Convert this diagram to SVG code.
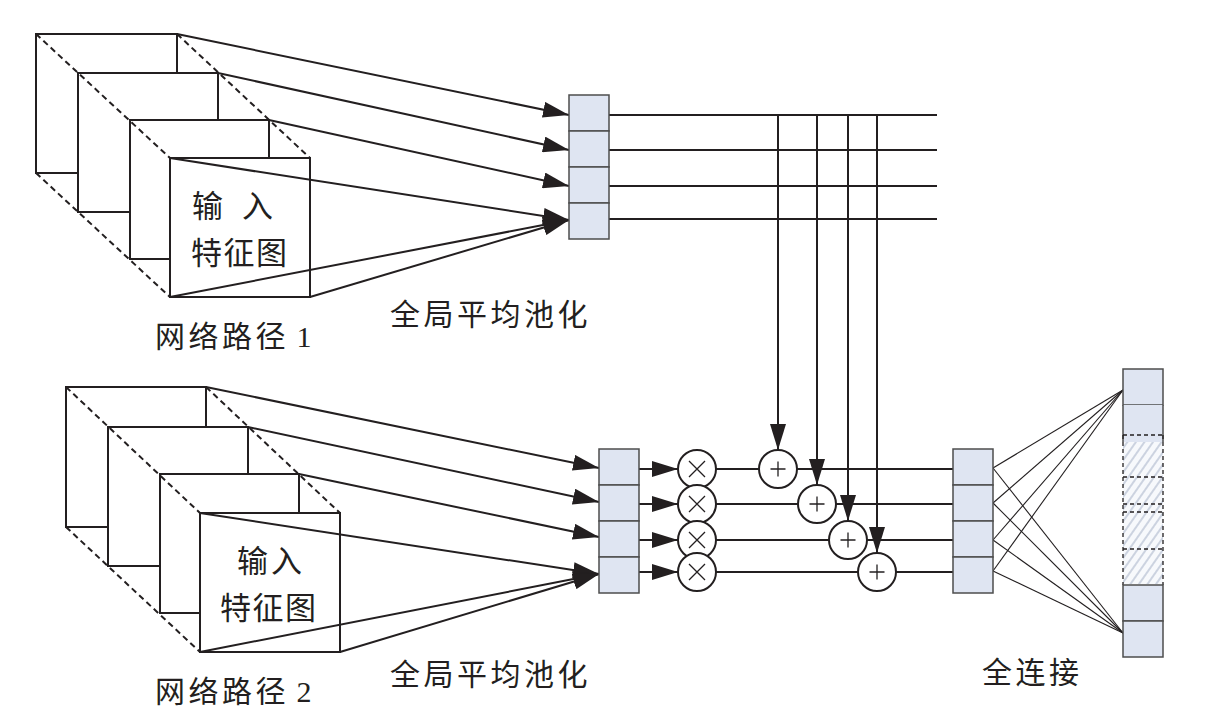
<svg xmlns="http://www.w3.org/2000/svg" width="1217" height="723" viewBox="0 0 1217 723">
<style>
.frame{fill:#fff;stroke:#231f20;stroke-width:2}
.dash{fill:none;stroke:#231f20;stroke-width:2;stroke-dasharray:6 4}
.cell{fill:#dfe5f2;stroke:#4d4d4d;stroke-width:1.5}
.wire{fill:none;stroke:#231f20;stroke-width:2}
.arr{fill:none;stroke:#231f20;stroke-width:2;marker-end:url(#ah)}
.fc{fill:none;stroke:#231f20;stroke-width:1.1}
.op{fill:#fff;stroke:#231f20;stroke-width:2}
.sym{fill:none;stroke:#231f20;stroke-width:1.3}
.lbl{font-family:"Noto Sans CJK SC","Liberation Serif",sans-serif;font-size:30px;fill:#231f20;letter-spacing:3.5px}
.in{font-family:"Noto Sans CJK SC","Liberation Serif",sans-serif;font-size:31px;fill:#231f20}
.num{font-family:"Liberation Serif",serif;letter-spacing:0}
</style>
<defs>
<marker id="ah" markerUnits="userSpaceOnUse" markerWidth="26" markerHeight="16" refX="26" refY="8" orient="auto">
<path d="M0,0 L26,8 L0,16 z" fill="#231f20"/>
</marker>
<pattern id="hatch" patternUnits="userSpaceOnUse" width="7" height="7" patternTransform="rotate(35)">
<rect width="7" height="7" fill="#f7f9fc"/>
<line x1="1" y1="0" x2="1" y2="7" stroke="#a9b4ca" stroke-width="1.1"/>
</pattern>
</defs>

<g id="path1-stack">
<rect class="frame" x="36" y="34" width="141" height="139"/>
<rect class="frame" x="78" y="73" width="140" height="139"/>
<rect class="frame" x="130" y="120" width="139" height="139"/>
<rect class="frame" x="170" y="158" width="140" height="139"/>
<line class="dash" x1="36" y1="34" x2="170" y2="158"/>
<line class="dash" x1="177" y1="34" x2="310" y2="158"/>
<line class="dash" x1="36" y1="173" x2="170" y2="297"/>
<text class="in" x="192 242" y="217">输入</text>
<text class="in" x="191" y="264" letter-spacing="1.5">特征图</text>
</g>

<g id="path2-stack">
<rect class="frame" x="66" y="387" width="140" height="140"/>
<rect class="frame" x="108" y="427" width="140" height="139"/>
<rect class="frame" x="160" y="474" width="139" height="139"/>
<rect class="frame" x="200" y="513" width="140" height="139"/>
<line class="dash" x1="66" y1="387" x2="200" y2="513"/>
<line class="dash" x1="206" y1="387" x2="340" y2="513"/>
<line class="dash" x1="66" y1="527" x2="200" y2="652"/>
<text class="in" x="237 271" y="572">输入</text>
<text class="in" x="220" y="619" letter-spacing="1.5">特征图</text>
</g>

<g id="connectors">
<line class="arr" x1="177" y1="34" x2="569" y2="115"/>
<line class="arr" x1="218" y1="73" x2="569" y2="150"/>
<line class="arr" x1="269" y1="120" x2="569" y2="186"/>
<line class="arr" x1="170" y1="158" x2="569" y2="220"/>
<line class="arr" x1="170" y1="297" x2="569" y2="220"/>
<line class="arr" x1="310" y1="297" x2="569" y2="220"/>

<line class="arr" x1="206" y1="387" x2="599" y2="468"/>
<line class="arr" x1="248" y1="427" x2="599" y2="502"/>
<line class="arr" x1="299" y1="474" x2="599" y2="537"/>
<line class="arr" x1="200" y1="513" x2="599" y2="574"/>
<line class="arr" x1="200" y1="652" x2="599" y2="574"/>
<line class="arr" x1="340" y1="652" x2="599" y2="574"/>

<line class="wire" x1="609" y1="115" x2="937" y2="115"/>
<line class="wire" x1="609" y1="150" x2="937" y2="150"/>
<line class="wire" x1="609" y1="186" x2="937" y2="186"/>
<line class="wire" x1="609" y1="219" x2="937" y2="219"/>

<line class="arr" x1="778" y1="115" x2="778" y2="450"/>
<line class="arr" x1="817" y1="115" x2="817" y2="485"/>
<line class="arr" x1="848" y1="115" x2="848" y2="521"/>
<line class="arr" x1="877" y1="115" x2="877" y2="553"/>

<line class="arr" x1="639" y1="469" x2="678" y2="469"/>
<line class="arr" x1="639" y1="504" x2="678" y2="504"/>
<line class="arr" x1="639" y1="540" x2="678" y2="540"/>
<line class="arr" x1="639" y1="572" x2="678" y2="572"/>

<line class="wire" x1="697" y1="469" x2="953" y2="469"/>
<line class="wire" x1="697" y1="504" x2="953" y2="504"/>
<line class="wire" x1="697" y1="540" x2="953" y2="540"/>
<line class="wire" x1="697" y1="572" x2="953" y2="572"/>

<line class="fc" x1="993" y1="468" x2="1123" y2="390"/>
<line class="fc" x1="993" y1="503" x2="1123" y2="390"/>
<line class="fc" x1="993" y1="540" x2="1123" y2="390"/>
<line class="fc" x1="993" y1="571" x2="1123" y2="390"/>
<line class="fc" x1="993" y1="468" x2="1123" y2="633"/>
<line class="fc" x1="993" y1="503" x2="1123" y2="633"/>
<line class="fc" x1="993" y1="540" x2="1123" y2="633"/>
<line class="fc" x1="993" y1="571" x2="1123" y2="633"/>
</g>

<g id="pool1">
<rect class="cell" x="569" y="95" width="40" height="36"/>
<rect class="cell" x="569" y="131" width="40" height="36"/>
<rect class="cell" x="569" y="167" width="40" height="36"/>
<rect class="cell" x="569" y="203" width="40" height="36"/>
</g>

<g id="pool2">
<rect class="cell" x="599" y="449" width="40" height="36"/>
<rect class="cell" x="599" y="485" width="40" height="36"/>
<rect class="cell" x="599" y="521" width="40" height="36"/>
<rect class="cell" x="599" y="557" width="40" height="36"/>
</g>

<g id="multiply">
<circle class="op" cx="697" cy="469" r="19"/>
<path class="sym" d="M689,461 L705,477 M705,461 L689,477"/>
<circle class="op" cx="697" cy="504" r="19"/>
<path class="sym" d="M689,496 L705,512 M705,496 L689,512"/>
<circle class="op" cx="697" cy="540" r="19"/>
<path class="sym" d="M689,532 L705,548 M705,532 L689,548"/>
<circle class="op" cx="697" cy="572" r="19"/>
<path class="sym" d="M689,564 L705,580 M705,564 L689,580"/>
</g>

<g id="add">
<circle class="op" cx="778" cy="469" r="19"/>
<path class="sym" d="M770.5,469 H785.5 M778,461.5 V476.5"/>
<circle class="op" cx="817" cy="504" r="19"/>
<path class="sym" d="M809.5,504 H824.5 M817,496.5 V511.5"/>
<circle class="op" cx="848" cy="540" r="19"/>
<path class="sym" d="M840.5,540 H855.5 M848,532.5 V547.5"/>
<circle class="op" cx="877" cy="572" r="19"/>
<path class="sym" d="M869.5,572 H884.5 M877,564.5 V579.5"/>
</g>

<g id="fc-input">
<rect class="cell" x="953" y="449" width="40" height="36"/>
<rect class="cell" x="953" y="485" width="40" height="36"/>
<rect class="cell" x="953" y="521" width="40" height="36"/>
<rect class="cell" x="953" y="557" width="40" height="36"/>
</g>

<g id="fc-output">
<rect class="cell" x="1123" y="369" width="40" height="36"/>
<rect x="1123" y="405" width="40" height="37" fill="#dfe5f2"/>
<rect x="1123" y="442" width="40" height="142" fill="url(#hatch)"/>
<path d="M1123,405 V442 M1163,405 V442" fill="none" stroke="#4d4d4d" stroke-width="1.5"/>
<path d="M1123,435 V585 M1163,435 V585 M1123,435 H1163 M1123,477 H1163 M1123,504 H1163 M1123,512 H1163 M1123,549 H1163" fill="none" stroke="#231f20" stroke-width="1.3" stroke-dasharray="4 3"/>
<rect class="cell" x="1123" y="585" width="40" height="36"/>
<rect class="cell" x="1123" y="621" width="40" height="36"/>
</g>

<g id="labels">
<text class="lbl" x="155" y="347">网络路径<tspan class="num"> 1</tspan></text>
<text class="lbl" x="390" y="325">全局平均池化</text>
<text class="lbl" x="155" y="702">网络路径<tspan class="num"> 2</tspan></text>
<text class="lbl" x="390" y="685">全局平均池化</text>
<text class="lbl" x="982" y="683" letter-spacing="3">全连接</text>
</g>
</svg>
